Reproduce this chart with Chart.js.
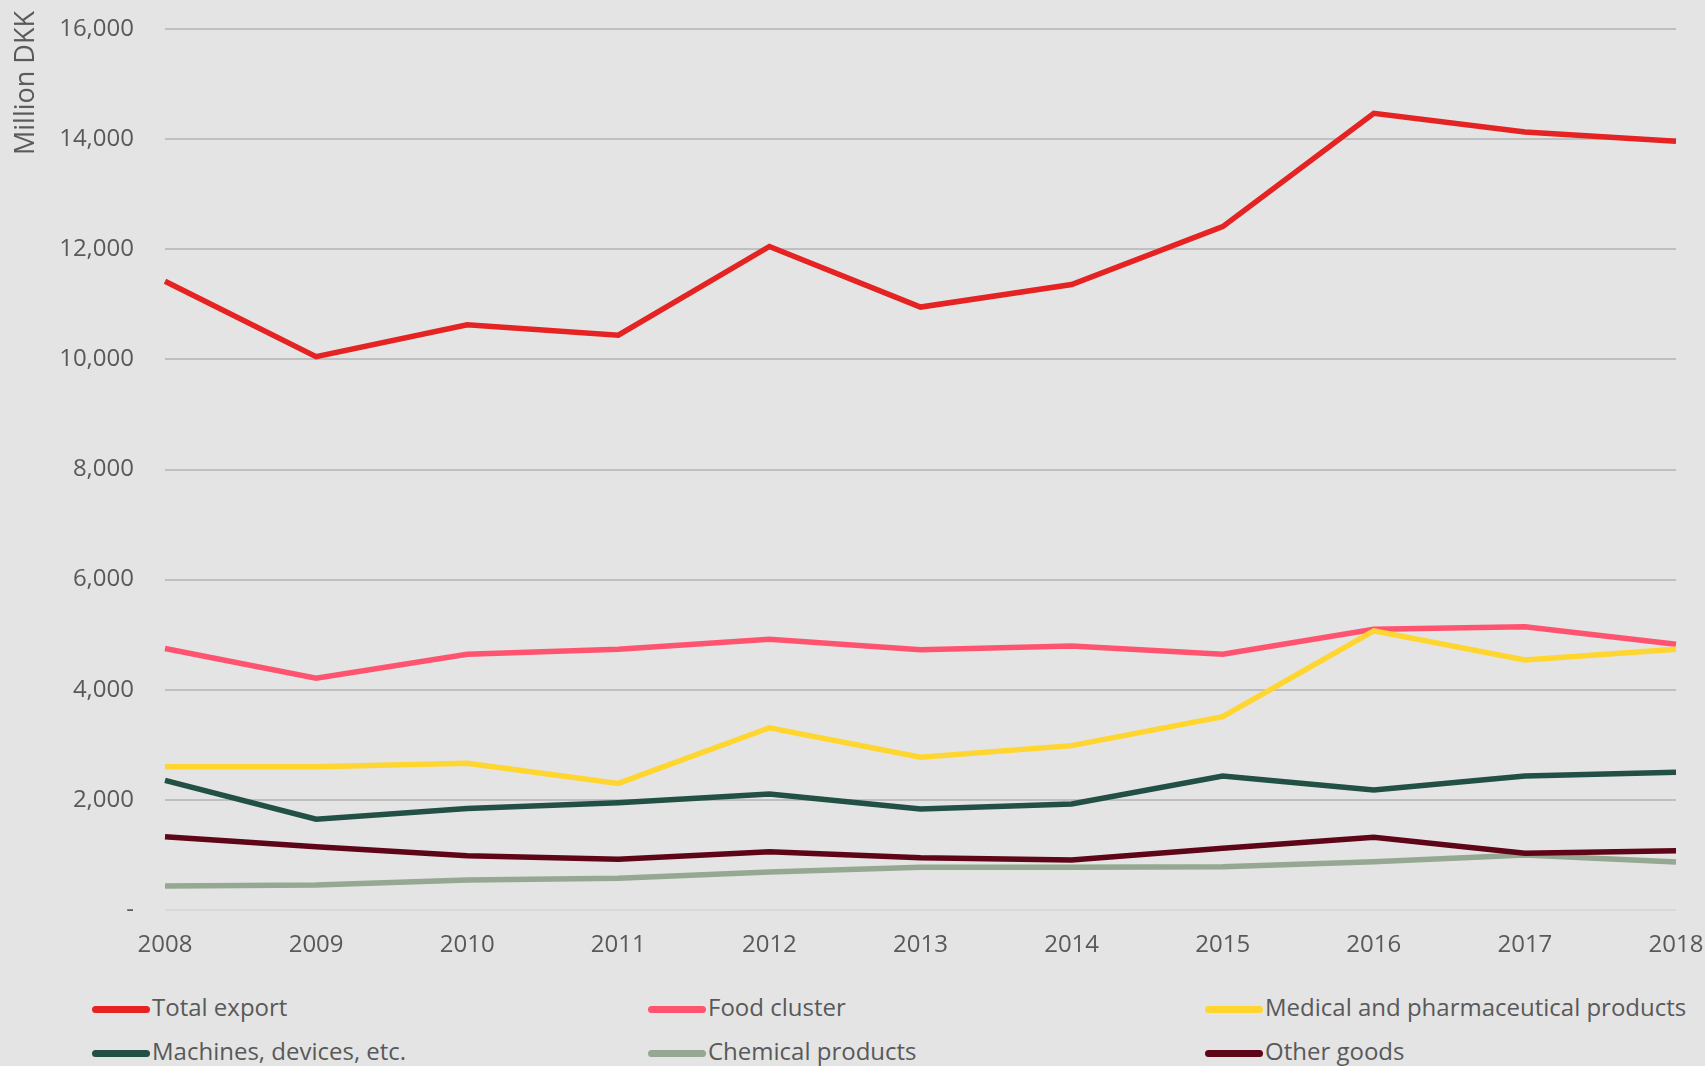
<!DOCTYPE html>
<html>
<head>
<meta charset="UTF-8">
<title>Export</title>
<script src="https://cdn.jsdelivr.net/npm/chart.js@4.4.0/dist/chart.umd.min.js"></script>
<style>
	body { margin: 0; background: #e4e4e4; font-family: "Open Sans", sans-serif; }
	#wrap { position: relative; width: 1705px; height: 1066px; overflow: hidden; }
	#graph-container { position: absolute; left: 0; top: 0; width: 1705px; height: 970px; }
	#ytitle { position: absolute; left: 24px; top: 83px; width: 0; height: 0; }
	#ytitle span { position: absolute; transform: translate(-50%, -50%) rotate(-90deg); white-space: nowrap;
		font-size: 27px; line-height: 32px; color: #595959; }
	.item { position: absolute; height: 30px; line-height: 30px; font-size: 24px; color: #595959; white-space: nowrap; }
	.item span.sample { position: absolute; left: 0; top: 14px; width: 58px; height: 7px; border-radius: 3.5px; }
	.item span.txt { position: absolute; left: 60px; top: 0; }
</style>
</head>
<body>
<div id="wrap">
	<div id="graph-container">
		<canvas id="line-chart"></canvas>
	</div>
	<div id="ytitle"><span>Million DKK</span></div>
	<div id="legend"></div>
</div>

<script type="text/javascript">

var years = ['2008', '2009', '2010', '2011', '2012', '2013', '2014', '2015', '2016', '2017', '2018'];

var totalExport = [11420, 10050, 10630, 10440, 12050, 10950, 11360, 12410, 14470, 14130, 13960];
var foodCluster = [4750, 4210, 4645, 4735, 4915, 4725, 4795, 4645, 5100, 5145, 4825];
var medical = [2600, 2600, 2665, 2300, 3310, 2775, 2985, 3510, 5070, 4540, 4735];
var machines = [2355, 1650, 1845, 1950, 2105, 1835, 1925, 2435, 2180, 2435, 2500];
var chemical = [435, 455, 545, 575, 690, 775, 775, 785, 875, 1000, 870];
var otherGoods = [1330, 1150, 985, 920, 1060, 950, 910, 1120, 1320, 1030, 1075];

var seriesNames = ['Total export', 'Food cluster', 'Medical and pharmaceutical products',
	'Machines, devices, etc.', 'Chemical products', 'Other goods'];
var seriesColors = ['#e42322', '#ff5470', '#ffd530', '#225044', '#95a892', '#5e0618'];
var seriesData = [totalExport, foodCluster, medical, machines, chemical, otherGoods];

var textColor = '#595959';

var datasets = [];
for (var i = 0; i < seriesNames.length; i++) {
	datasets.push({
		label: seriesNames[i],
		data: seriesData[i],
		borderColor: seriesColors[i],
		backgroundColor: seriesColors[i],
		borderWidth: 5.5,
		pointRadius: 0,
		tension: 0,
		order: seriesNames.length - i
	});
}

var ctx = document.getElementById('line-chart').getContext('2d');
var chartJS = new Chart(ctx, {
	type: 'line',
	data: { labels: years, datasets: datasets },
	options: {
		responsive: true,
		maintainAspectRatio: false,
		animation: false,
		layout: { padding: { left: 0, right: 29, top: 29, bottom: 0 } },
		plugins: {
			legend: { display: false },
			tooltip: { enabled: false }
		},
		scales: {
			x: {
				offset: false,
				grid: { display: false, drawTicks: false },
				border: { display: false },
				ticks: {
					color: textColor,
					font: { family: 'Open Sans', size: 24 },
					padding: 21,
					maxRotation: 0,
					autoSkip: false
				},
				afterFit: function(scale) {
					scale.height = 60;
					scale.paddingLeft = 0;
					scale.paddingRight = 0;
				}
			},
			y: {
				min: 0,
				max: 16000,
				grid: {
					drawTicks: false,
					lineWidth: 2,
					color: function(c) { return c.tick && c.tick.value === 0 ? '#d8d8d8' : '#bfbfbf'; }
				},
				border: { display: false },
				ticks: {
					stepSize: 2000,
					color: textColor,
					font: { family: 'Open Sans', size: 24 },
					padding: 31,
					callback: function(value) { return value === 0 ? '-' : value.toLocaleString('en-US'); }
				},
				afterFit: function(scale) {
					scale.width = 165;
					scale.paddingTop = 0;
					scale.paddingBottom = 0;
				}
			}
		}
	}
});

// legend in three columns, two rows
var legendLeft = [92, 648, 1205];
var legendTop = [992, 1036];
var legend = document.getElementById('legend');
for (var j = 0; j < chartJS.data.datasets.length; j++) {
	var ds = chartJS.data.datasets[j];
	var item = document.createElement('div');
	item.className = 'item';
	item.style.left = legendLeft[j % 3] + 'px';
	item.style.top = legendTop[Math.floor(j / 3)] + 'px';
	var sample = document.createElement('span');
	sample.className = 'sample';
	sample.style.background = ds.borderColor;
	var txt = document.createElement('span');
	txt.className = 'txt';
	txt.textContent = ds.label;
	item.appendChild(sample);
	item.appendChild(txt);
	legend.appendChild(item);
}

</script>
</body>
</html>
